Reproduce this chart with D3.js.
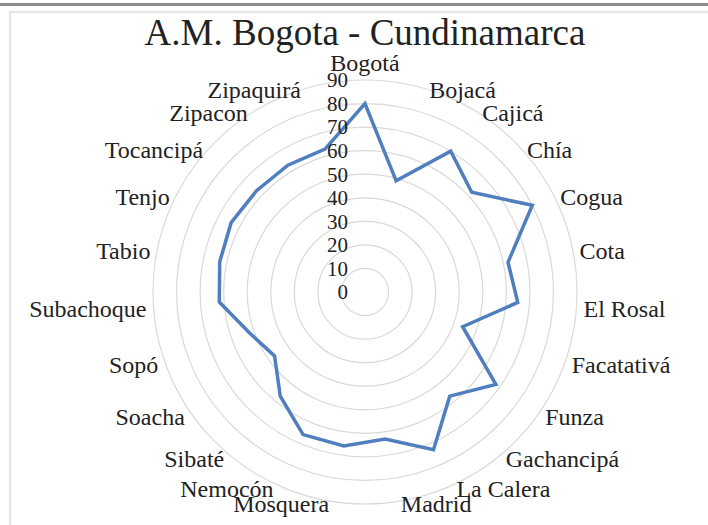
<!DOCTYPE html>
<html>
<head>
<meta charset="utf-8">
<script src="https://cdnjs.cloudflare.com/ajax/libs/d3/7.8.5/d3.min.js"></script>
<style>
  body { margin: 0; background: #fff; }
  svg { display: block; }
  text { font-family: "Liberation Serif", "Times New Roman", serif; fill: #222; }
</style>
</head>
<body>
<svg id="chart" width="708" height="525"></svg>
<script>
// municipios, clockwise from the top
const categories = ["Bogotá", "Bojacá", "Cajicá", "Chía", "Cogua", "Cota", "El Rosal",
  "Facatativá", "Funza", "Gachancipá", "La Calera", "Madrid", "Mosquera", "Nemocón",
  "Sibaté", "Soacha", "Sopó", "Subachoque", "Tabio", "Tenjo", "Tocancipá", "Zipacon", "Zipaquirá"];
const values = [80, 49, 70, 62, 80, 62, 65, 44, 68, 57, 73, 63, 66, 66, 57, 47, 52, 62, 63, 64, 63, 63, 63];
const ticks = [0, 10, 20, 30, 40, 50, 60, 70, 80, 90];
const title = "A.M. Bogota - Cundinamarca";

const svg = d3.select("#chart");
const cx = 365, cy = 292;

// frame: dark band on top, light chart border
svg.append("rect").attr("x", 0).attr("y", 3).attr("width", 708).attr("height", 3).attr("fill", "#8c8c8c");
svg.append("rect").attr("x", 10).attr("y", 12).attr("width", 720).attr("height", 540)
  .attr("fill", "none").attr("stroke", "#e6e6e6").attr("stroke-width", 2.5);

const r = d3.scaleLinear().domain([0, 90]).range([0, 212]);
const angle = d3.scaleLinear().domain([0, categories.length]).range([0, 2 * Math.PI]);

const g = svg.append("g").attr("transform", "translate(" + cx + "," + cy + ")");

// circular gridlines
g.selectAll(".ring")
  .data(ticks.filter(function(d) { return d > 0; }))
  .enter().append("circle")
  .attr("class", "ring")
  .attr("r", function(d) { return r(d); })
  .attr("fill", "none")
  .attr("stroke", "#d9d9d9")
  .attr("stroke-width", 1.2);

// the series
const line = d3.lineRadial()
  .angle(function(d, i) { return angle(i); })
  .radius(function(d) { return r(d); })
  .curve(d3.curveLinearClosed);

g.append("path")
  .datum(values)
  .attr("d", line)
  .attr("fill", "none")
  .attr("stroke", "#4f7fbf")
  .attr("stroke-width", 3.5)
  .attr("stroke-linejoin", "miter");

// value axis labels
g.selectAll(".tick")
  .data(ticks)
  .enter().append("text")
  .attr("class", "tick")
  .attr("x", -17)
  .attr("y", function(d) { return -r(d); })
  .attr("dy", "0.35em")
  .attr("text-anchor", "end")
  .style("font-size", "21px")
  .text(function(d) { return d; });

// category labels
g.selectAll(".cat")
  .data(categories)
  .enter().append("text")
  .attr("class", "cat")
  .style("font-size", "24px")
  .each(function(d, i) {
    const a = angle(i);
    const s = Math.sin(a), c = Math.cos(a);
    const rx = r(90) * s, ry = -r(90) * c;
    const t = d3.select(this);
    if (Math.abs(s) < 0.01) {
      t.attr("x", rx).attr("y", ry - 17).attr("text-anchor", "middle");
    } else {
      t.attr("x", rx + (s > 0 ? 7 : -7)).attr("y", ry + 2)
        .attr("text-anchor", s > 0 ? "start" : "end");
    }
    t.attr("dy", "0.35em").text(d);
  });

svg.append("text")
  .attr("x", cx)
  .attr("y", 45)
  .attr("text-anchor", "middle")
  .style("font-size", "37px")
  .text(title);
</script>
</body>
</html>
